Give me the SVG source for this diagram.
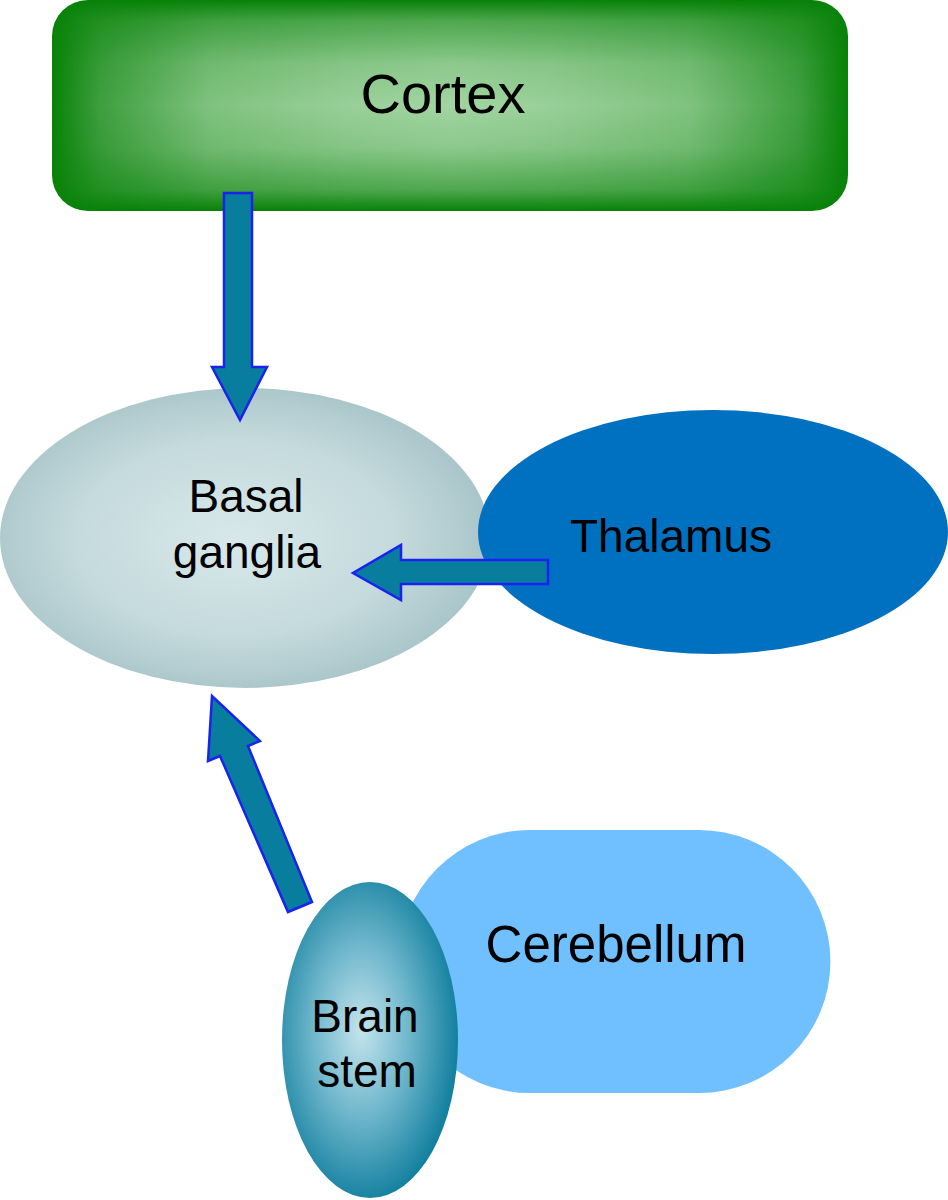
<svg xmlns="http://www.w3.org/2000/svg" width="948" height="1200" viewBox="0 0 948 1200">
<style>
.lbl{font-family:"Liberation Sans",Arial,sans-serif;fill:#000;text-anchor:middle}
.arr{fill:#087d9e;stroke:#1a22f0;stroke-width:2.5;stroke-linejoin:miter}
</style>
<defs>
<linearGradient id="gH" x1="0" y1="0" x2="1" y2="0">
<stop offset="0" stop-color="#000"/>
<stop offset="0.06" stop-color="#5a5a5a"/>
<stop offset="0.2" stop-color="#c8c8c8"/>
<stop offset="0.38" stop-color="#f2f2f2"/>
<stop offset="0.5" stop-color="#fff"/>
<stop offset="0.62" stop-color="#f2f2f2"/>
<stop offset="0.8" stop-color="#c8c8c8"/>
<stop offset="0.94" stop-color="#5a5a5a"/>
<stop offset="1" stop-color="#000"/>
</linearGradient>
<linearGradient id="gV" x1="0" y1="0" x2="0" y2="1">
<stop offset="0" stop-color="#000"/>
<stop offset="0.1" stop-color="#777"/>
<stop offset="0.3" stop-color="#dcdcdc"/>
<stop offset="0.5" stop-color="#fff"/>
<stop offset="0.7" stop-color="#dcdcdc"/>
<stop offset="0.9" stop-color="#777"/>
<stop offset="1" stop-color="#000"/>
</linearGradient>
<mask id="mH" maskUnits="userSpaceOnUse" x="52" y="0" width="796" height="211">
<rect x="52" y="0" width="796" height="211" fill="url(#gH)"/>
</mask>
<mask id="mV" maskUnits="userSpaceOnUse" x="52" y="0" width="796" height="211">
<rect x="52" y="0" width="796" height="211" fill="url(#gV)"/>
</mask>
<radialGradient id="gBasal" cx="48%" cy="50%" r="55%">
<stop offset="0" stop-color="#d8e8ea"/>
<stop offset="0.6" stop-color="#c4dadd"/>
<stop offset="1" stop-color="#a5c2c6"/>
</radialGradient>
<radialGradient id="gStem" cx="45%" cy="47%" r="55%">
<stop offset="0" stop-color="#c4e4ec"/>
<stop offset="0.5" stop-color="#6eb6cb"/>
<stop offset="1" stop-color="#13809f"/>
</radialGradient>
</defs>
<g id="cortex">
<rect x="52" y="0" width="796" height="211" rx="36" ry="36" fill="#088208"/>
<g mask="url(#mV)">
<rect x="52" y="0" width="796" height="211" rx="36" ry="36" fill="#a2d4a2" mask="url(#mH)"/>
</g>
<text class="lbl" x="443" y="113" font-size="56">Cortex</text>
</g>
<g id="basal-ganglia">
<ellipse cx="245" cy="538" rx="245" ry="150" fill="url(#gBasal)"/>
<text class="lbl" x="246" y="512" font-size="46">Basal</text>
<text class="lbl" x="247" y="568" font-size="46">ganglia</text>
</g>
<g id="thalamus">
<ellipse cx="713" cy="532" rx="235" ry="122" fill="#0070c0"/>
<text class="lbl" x="671" y="552" font-size="46">Thalamus</text>
</g>
<g id="cerebellum">
<path d="M530,830 H699 A131.5,131.5 0 0 1 699,1093 H530 A131.5,131.5 0 0 1 530,830 Z" fill="#70c0ff"/>
<text class="lbl" x="616" y="962" font-size="51">Cerebellum</text>
</g>
<g id="brain-stem">
<ellipse cx="370" cy="1040" rx="88" ry="158" fill="url(#gStem)"/>
<text class="lbl" x="365" y="1032" font-size="46">Brain</text>
<text class="lbl" x="367" y="1087" font-size="46">stem</text>
</g>
<g id="connectors">
<path class="arr" d="M224,193 H252 V367 H267 L240,420 L212,367 H224 Z"/>
<path class="arr" d="M548,560 V584 H401 V600 L353,573 L401,545 V560 Z"/>
<path class="arr" d="M312,902 L288,912 L220,756 L208,761 L212,696 L260,741 L248,746 Z"/>
</g>
</svg>
